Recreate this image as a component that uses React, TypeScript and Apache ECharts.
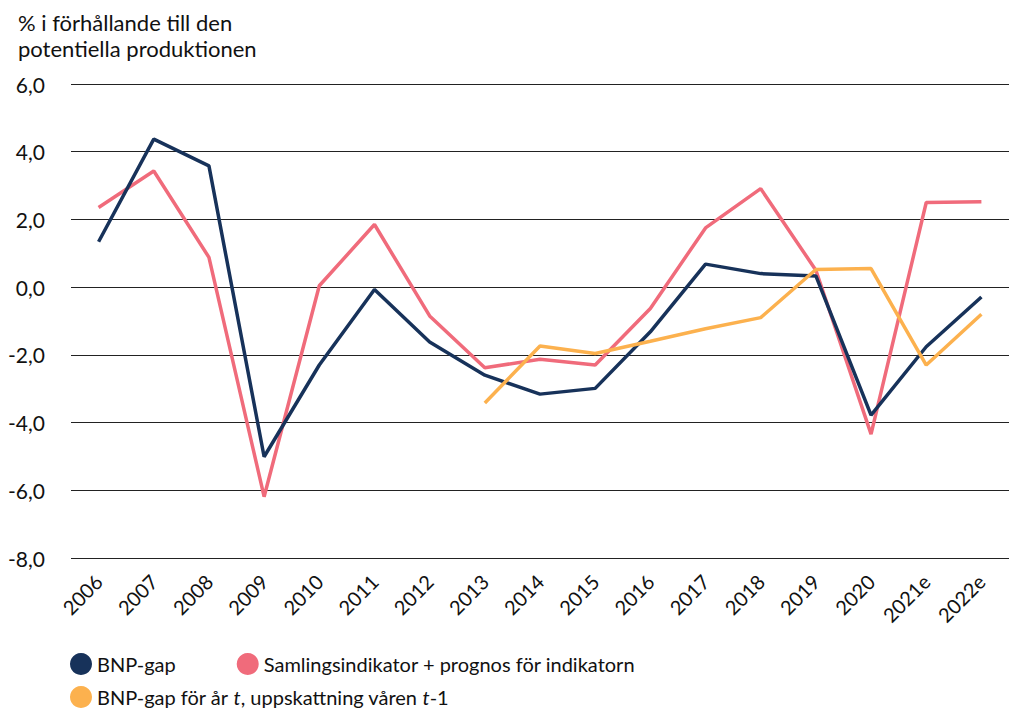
import React, { useEffect, useRef } from "react";
import * as echarts from "echarts";

const categories = ["2006","2007","2008","2009","2010","2011","2012","2013","2014","2015","2016","2017","2018","2019","2020","2021e","2022e"];
const bnpGap = [1.34, 4.37, 3.58, -5.01, -2.3, -0.07, -1.62, -2.6, -3.16, -2.99, -1.32, 0.68, 0.4, 0.33, -3.78, -1.76, -0.29];
const samlingsindikator = [2.35, 3.43, 0.88, -6.19, 0.04, 1.85, -0.85, -2.38, -2.13, -2.3, -0.63, 1.75, 2.91, 0.5, -4.34, 2.5, 2.52];
const bnpGapVaren = [null, null, null, null, null, null, null, -3.42, -1.74, -1.96, -1.6, -1.23, -0.9, 0.52, 0.55, -2.3, -0.8];
const yTicks = { min: -8, max: 6, interval: 2 };

const NAME1 = "BNP-gap";
const NAME2 = "Samlingsindikator + prognos för indikatorn";
const NAME3 = "BNP-gap för år t, uppskattning våren t-1";

const FONT = "Lato, 'Noto Sans', sans-serif";

export default function App() {
  const ref = useRef<HTMLDivElement>(null);
  useEffect(() => {
    document.body.style.margin = "0";
    const chart = echarts.init(ref.current!, null, { renderer: "svg" });
    chart.setOption({
      animation: false,
      backgroundColor: "#fff",
      textStyle: { fontFamily: FONT },
      title: {
        text: "% i förhållande till den\npotentiella produktionen",
        left: 13,
        top: 4,
        textStyle: { fontSize: 22, fontWeight: "normal", color: "#111", lineHeight: 26, fontFamily: FONT },
      },
      grid: { left: 71, right: -7, top: 84, bottom: 152, containLabel: false },
      xAxis: {
        type: "category",
        data: categories,
        boundaryGap: true,
        axisLine: { show: false },
        axisTick: { show: false },
        axisLabel: { rotate: 45, fontSize: 20, color: "#111", margin: 20, interval: 0, fontFamily: FONT },
      },
      yAxis: {
        type: "value",
        min: yTicks.min,
        max: yTicks.max,
        interval: yTicks.interval,
        axisLine: { show: false },
        axisTick: { show: false },
        axisLabel: {
          fontSize: 21,
          color: "#111",
          margin: 26,
          fontFamily: FONT,
          formatter: (v: number) => v.toFixed(1).replace(".", ","),
        },
        splitLine: { lineStyle: { color: "#222", width: 1.2 } },
      },
      legend: [
        {
          data: [NAME1, NAME2],
          left: 70,
          top: 653,
          icon: "circle",
          itemWidth: 22,
          itemHeight: 22,
          itemGap: 61,
          padding: 0,
          textStyle: { fontSize: 20, color: "#111", fontFamily: FONT },
        },
        {
          data: [NAME3],
          left: 70,
          top: 686,
          icon: "circle",
          itemWidth: 22,
          itemHeight: 22,
          padding: 0,
          formatter: () => "{n|BNP-gap för år }{i|t}{n|, uppskattning våren }{i|t}{n|-1}",
          textStyle: {
            fontSize: 20,
            color: "#111",
            fontFamily: FONT,
            rich: {
              n: { fontSize: 20, color: "#111", fontFamily: FONT },
              i: { fontSize: 20, color: "#111", fontFamily: FONT, fontStyle: "italic" },
            },
          },
        },
      ],
      series: [
        {
          name: NAME1,
          type: "line",
          data: bnpGap,
          symbol: "none",
          color: "#17325a",
          lineStyle: { width: 3.5, color: "#17325a" },
          z: 3,
        },
        {
          name: NAME2,
          type: "line",
          data: samlingsindikator,
          symbol: "none",
          color: "#f06b7b",
          lineStyle: { width: 3.5, color: "#f06b7b" },
          z: 2,
        },
        {
          name: NAME3,
          type: "line",
          data: bnpGapVaren,
          symbol: "none",
          color: "#fcb14e",
          lineStyle: { width: 3.5, color: "#fcb14e" },
          z: 4,
        },
      ],
    });
    return () => chart.dispose();
  }, []);
  return <div ref={ref} style={{ width: 1009, height: 710 }} />;
}
